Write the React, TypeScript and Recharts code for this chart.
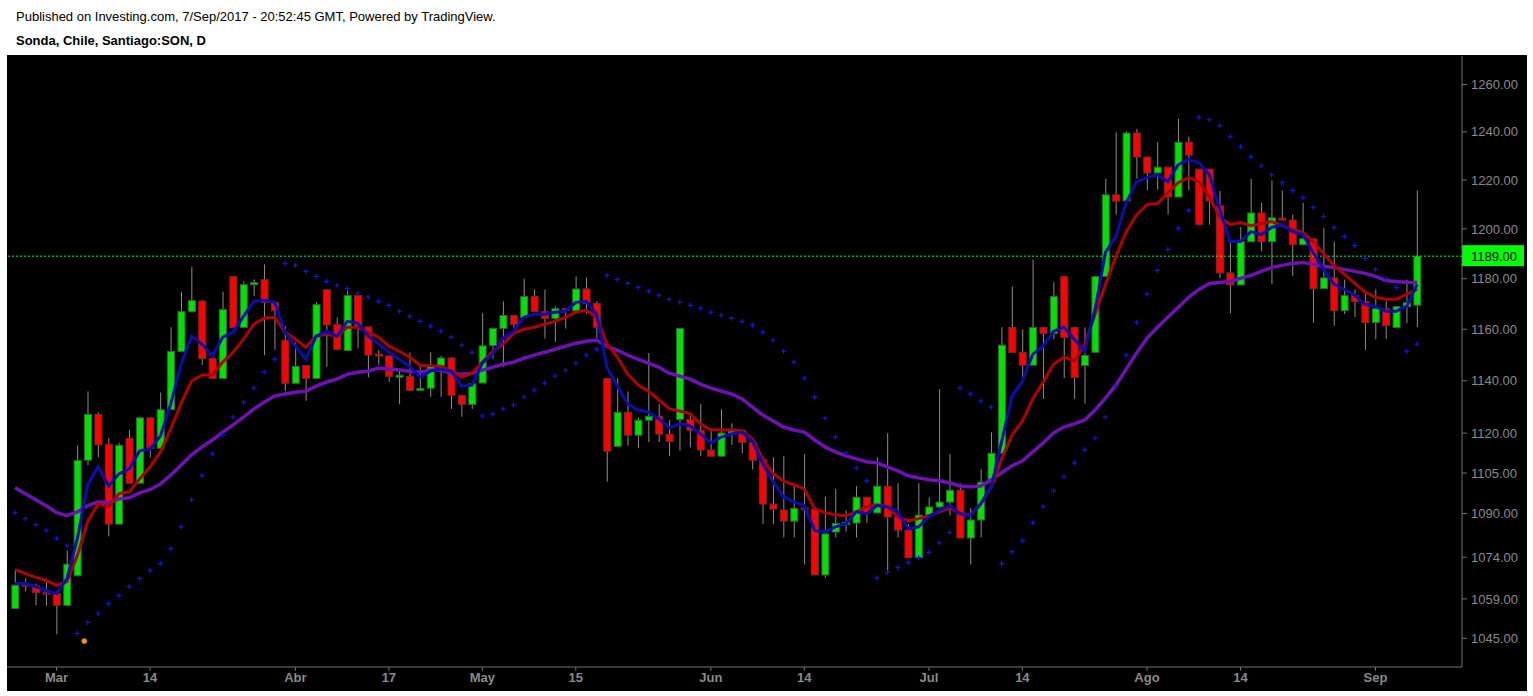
import React from 'react';
import { ComposedChart, Bar, Line, XAxis, YAxis, ReferenceLine, ReferenceDot } from 'recharts';

// daily candles, Sonda (SON) Santiago, 23 Feb – 7 Sep 2017
const opens = [
  1055.6, 1063.9, 1063.7, 1060.9, 1060.8, 1056.7, 1067.3, 1109.8, 1127.1, 1115.8,
  1086.1, 1118.1, 1101.2, 1125.8, 1114.3, 1128.9, 1151.3, 1166.9, 1171.1, 1148.6,
  1140.9, 1180.8, 1160.7, 1177.6, 1179.6, 1170.5, 1155.7, 1139.0, 1145.9, 1140.9,
  1175.6, 1161.8, 1151.7, 1173.3, 1160.9, 1150.1, 1149.6, 1141.5, 1141.7, 1136.5,
  1137.1, 1145.9, 1148.8, 1134.4, 1130.9, 1139.1, 1153.6, 1160.3, 1165.4, 1164.6,
  1172.9, 1166.9, 1164.2, 1168.0, 1167.2, 1175.9, 1170.1, 1140.9, 1115.0, 1127.9,
  1119.2, 1124.9, 1126.4, 1119.6, 1125.2, 1125.2, 1121.1, 1113.6, 1111.3, 1120.0,
  1121.1, 1116.5, 1110.0, 1093.5, 1091.3, 1087.2, 1091.7, 1091.6, 1067.6, 1083.2,
  1086.2, 1086.5, 1096.0, 1090.2, 1100.1, 1088.7, 1083.9, 1073.8, 1089.4, 1092.4,
  1094.2, 1098.6, 1081.0, 1087.6, 1101.6, 1112.4, 1160.7, 1151.0, 1146.0, 1160.7,
  1158.4, 1180.8, 1160.7, 1145.9, 1151.0, 1180.8, 1213.9, 1211.4, 1239.5, 1229.5,
  1222.9, 1225.3, 1213.0, 1235.7, 1224.5, 1224.5, 1209.4, 1182.3, 1177.5, 1194.8,
  1206.5, 1194.8, 1204.2, 1203.6, 1193.6, 1196.0, 1176.0, 1180.3, 1167.3, 1173.3,
  1170.9, 1162.6, 1168.1, 1160.7, 1168.9, 1169.5,
];
const highs = [
  1069.6, 1066.3, 1064.5, 1066.3, 1060.8, 1076.5, 1115.3, 1135.9, 1127.9, 1118.1,
  1116.3, 1121.2, 1125.8, 1125.8, 1135.5, 1160.8, 1174.8, 1184.8, 1171.5, 1151.0,
  1174.8, 1180.8, 1178.9, 1179.7, 1185.7, 1170.5, 1161.1, 1154.8, 1145.9, 1170.7,
  1175.7, 1164.6, 1176.0, 1173.3, 1160.9, 1151.9, 1149.6, 1143.8, 1151.0, 1146.0,
  1151.0, 1149.6, 1149.2, 1134.4, 1138.8, 1166.3, 1160.6, 1171.0, 1165.4, 1180.0,
  1175.7, 1175.7, 1169.0, 1168.0, 1180.9, 1180.5, 1171.0, 1140.9, 1141.0, 1135.9,
  1126.0, 1150.7, 1131.0, 1124.9, 1160.3, 1126.6, 1131.0, 1121.1, 1129.0, 1123.7,
  1121.1, 1116.5, 1110.0, 1110.9, 1111.3, 1101.2, 1112.1, 1091.6, 1096.2, 1099.1,
  1091.1, 1100.1, 1096.0, 1110.9, 1120.0, 1101.2, 1086.1, 1101.2, 1096.0, 1136.8,
  1112.1, 1101.1, 1092.0, 1106.4, 1120.3, 1160.8, 1176.9, 1160.0, 1187.7, 1161.0,
  1178.6, 1181.0, 1161.0, 1160.7, 1181.0, 1220.5, 1239.8, 1240.2, 1241.3, 1229.5,
  1235.6, 1225.3, 1245.5, 1238.1, 1224.5, 1224.5, 1215.5, 1194.8, 1200.7, 1220.5,
  1210.6, 1219.8, 1215.6, 1205.8, 1210.6, 1196.0, 1200.3, 1194.9, 1179.6, 1175.7,
  1174.4, 1175.7, 1171.0, 1168.9, 1179.6, 1215.6,
];
const lows = [
  1055.6, 1061.6, 1056.7, 1056.7, 1046.4, 1056.7, 1067.3, 1108.0, 1110.9, 1081.6,
  1086.1, 1101.2, 1101.2, 1110.9, 1112.2, 1128.9, 1151.3, 1166.9, 1146.1, 1140.9,
  1140.9, 1160.7, 1160.7, 1173.1, 1149.9, 1152.0, 1136.1, 1139.0, 1132.3, 1140.9,
  1145.4, 1151.8, 1151.7, 1152.5, 1141.3, 1146.1, 1139.6, 1131.0, 1136.3, 1136.5,
  1133.8, 1133.8, 1129.2, 1126.2, 1129.2, 1139.1, 1148.6, 1145.4, 1160.6, 1164.6,
  1166.9, 1156.4, 1155.1, 1160.3, 1167.2, 1166.1, 1156.4, 1101.8, 1115.0, 1115.3,
  1114.3, 1116.6, 1116.6, 1111.3, 1113.4, 1114.7, 1111.3, 1111.3, 1111.3, 1115.6,
  1112.4, 1106.3, 1086.2, 1086.2, 1081.2, 1081.2, 1071.4, 1067.6, 1066.5, 1081.2,
  1083.4, 1081.2, 1086.5, 1090.2, 1068.7, 1081.2, 1073.8, 1073.8, 1089.4, 1092.0,
  1089.3, 1081.0, 1071.4, 1081.2, 1101.6, 1112.4, 1151.0, 1141.0, 1146.0, 1133.0,
  1156.1, 1141.0, 1133.0, 1131.2, 1151.0, 1180.8, 1205.8, 1211.4, 1220.5, 1215.8,
  1216.0, 1205.9, 1213.0, 1215.8, 1201.7, 1201.7, 1180.3, 1166.2, 1177.5, 1194.8,
  1191.0, 1177.8, 1203.5, 1181.0, 1193.6, 1162.6, 1176.0, 1161.4, 1166.0, 1164.8,
  1152.0, 1156.1, 1156.2, 1160.7, 1162.4, 1160.9,
];
const closes = [
  1063.9, 1063.9, 1061.2, 1060.9, 1056.7, 1071.5, 1109.7, 1127.1, 1115.6, 1086.1,
  1115.4, 1101.2, 1125.8, 1114.3, 1128.9, 1151.3, 1166.9, 1171.3, 1148.6, 1140.9,
  1167.7, 1160.7, 1177.6, 1178.4, 1170.5, 1167.3, 1139.0, 1145.5, 1140.9, 1169.7,
  1161.7, 1152.1, 1173.3, 1161.1, 1149.9, 1149.8, 1141.7, 1142.0, 1136.3, 1136.9,
  1145.7, 1148.8, 1134.4, 1130.9, 1138.8, 1153.5, 1160.3, 1165.4, 1161.9, 1172.9,
  1166.9, 1164.2, 1168.1, 1167.5, 1175.9, 1170.1, 1160.8, 1113.2, 1127.9, 1119.2,
  1124.9, 1126.4, 1119.6, 1116.9, 1160.3, 1121.1, 1113.6, 1111.3, 1120.0, 1121.1,
  1116.5, 1109.8, 1093.5, 1091.6, 1087.2, 1091.9, 1091.7, 1067.6, 1082.5, 1086.3,
  1086.6, 1096.0, 1090.2, 1100.1, 1088.7, 1083.9, 1073.8, 1089.4, 1092.4, 1094.2,
  1098.6, 1081.0, 1087.6, 1101.6, 1112.4, 1153.8, 1151.0, 1146.0, 1160.7, 1158.4,
  1172.9, 1156.8, 1141.3, 1149.8, 1180.8, 1213.9, 1211.3, 1239.5, 1229.5, 1222.9,
  1225.3, 1213.0, 1235.7, 1230.3, 1201.7, 1211.4, 1182.3, 1177.5, 1194.8, 1206.5,
  1194.8, 1204.5, 1203.8, 1193.6, 1196.0, 1176.0, 1180.3, 1167.3, 1173.3, 1170.9,
  1162.6, 1168.1, 1161.4, 1168.9, 1170.5, 1189.0,
];

// moving averages as drawn (blue = fast, red = mid, purple = slow)
const fastMa = [
  1064.5, 1064.5, 1063.4, 1062.0, 1060.9, 1066.3, 1080.8, 1100.6, 1107.3, 1100.2,
  1104.7, 1106.6, 1113.3, 1114.0, 1118.9, 1131.1, 1146.4, 1157.3, 1154.2, 1149.5,
  1156.9, 1158.8, 1165.1, 1171.0, 1171.4, 1170.6, 1158.8, 1153.4, 1148.3, 1157.3,
  1159.2, 1157.3, 1163.1, 1162.4, 1157.3, 1154.2, 1151.0, 1148.3, 1145.6, 1141.4,
  1143.7, 1144.5, 1143.7, 1137.9, 1138.3, 1146.8, 1150.3, 1156.5, 1159.2, 1164.7,
  1165.9, 1165.9, 1166.7, 1167.1, 1170.6, 1171.0, 1165.9, 1145.2, 1137.9, 1131.1,
  1128.8, 1128.0, 1125.4, 1122.0, 1123.5, 1122.7, 1119.7, 1116.3, 1118.5, 1119.7,
  1120.4, 1117.0, 1108.4, 1101.7, 1096.2, 1094.3, 1092.9, 1083.7, 1083.3, 1085.1,
  1086.2, 1090.6, 1089.9, 1092.9, 1092.5, 1090.6, 1084.4, 1085.1, 1088.8, 1091.0,
  1092.9, 1089.9, 1089.2, 1093.6, 1099.9, 1116.7, 1134.1, 1139.9, 1150.3, 1153.4,
  1159.2, 1160.8, 1156.1, 1151.4, 1167.9, 1190.5, 1196.9, 1210.7, 1219.3, 1221.0,
  1222.2, 1219.3, 1226.3, 1228.4, 1227.1, 1222.2, 1207.9, 1194.9, 1194.9, 1198.9,
  1197.7, 1200.6, 1201.8, 1198.9, 1197.7, 1190.5, 1183.7, 1177.7, 1175.7, 1173.4,
  1169.8, 1169.0, 1167.1, 1167.1, 1169.0, 1177.7,
];
const midMa = [
  1069.5, 1068.1, 1066.7, 1065.6, 1063.8, 1065.2, 1074.6, 1087.0, 1093.6, 1092.5,
  1097.3, 1098.0, 1102.8, 1107.3, 1112.9, 1121.6, 1131.4, 1139.9, 1142.2, 1142.2,
  1147.2, 1151.0, 1156.1, 1162.0, 1164.3, 1164.7, 1158.8, 1156.1, 1153.0, 1157.3,
  1158.1, 1157.3, 1160.8, 1160.8, 1158.8, 1156.9, 1153.4, 1151.4, 1149.1, 1146.0,
  1145.8, 1145.6, 1143.7, 1141.4, 1142.9, 1147.2, 1151.4, 1154.2, 1158.4, 1160.0,
  1160.8, 1162.0, 1163.1, 1164.7, 1166.7, 1167.5, 1164.7, 1154.2, 1149.1, 1142.5,
  1138.3, 1136.0, 1132.6, 1129.2, 1128.4, 1127.3, 1123.5, 1121.2, 1121.2, 1121.2,
  1120.8, 1117.8, 1110.3, 1104.7, 1102.1, 1100.6, 1099.1, 1091.7, 1090.3, 1089.5,
  1089.2, 1090.6, 1092.5, 1093.2, 1092.5, 1088.8, 1087.3, 1088.1, 1089.2, 1090.6,
  1092.1, 1089.9, 1089.5, 1093.6, 1099.9, 1110.3, 1119.2, 1124.6, 1133.0, 1139.5,
  1146.4, 1149.1, 1147.6, 1154.2, 1165.9, 1177.7, 1188.9, 1198.9, 1205.8, 1209.9,
  1210.3, 1214.8, 1218.9, 1221.0, 1219.3, 1213.2, 1204.6, 1201.8, 1202.6, 1201.3,
  1202.2, 1203.0, 1201.3, 1199.8, 1198.5, 1194.9, 1190.1, 1185.3, 1181.7, 1178.1,
  1174.6, 1172.6, 1171.8, 1171.8, 1173.8, 1175.7,
];
const slowMa = [
  1099.5, 1097.3, 1095.1, 1092.9, 1090.3, 1089.2, 1090.6, 1092.9, 1094.3, 1093.9,
  1095.4, 1095.8, 1097.6, 1098.8, 1100.9, 1104.3, 1108.0, 1111.8, 1114.8, 1117.4,
  1120.4, 1123.1, 1126.1, 1129.2, 1131.8, 1134.1, 1134.9, 1135.6, 1136.0, 1137.9,
  1139.5, 1140.6, 1142.5, 1143.3, 1143.7, 1144.9, 1144.5, 1144.1, 1143.7, 1143.3,
  1144.1, 1144.1, 1142.9, 1142.5, 1142.9, 1144.1, 1145.2, 1146.4, 1147.2, 1148.7,
  1149.9, 1151.0, 1152.2, 1153.4, 1154.5, 1155.3, 1155.7, 1153.4, 1151.8, 1149.9,
  1148.3, 1146.8, 1145.2, 1142.9, 1141.8, 1140.6, 1138.7, 1137.2, 1136.0, 1134.9,
  1133.0, 1129.9, 1126.9, 1124.6, 1122.3, 1121.2, 1120.4, 1117.4, 1114.8, 1112.9,
  1111.4, 1110.3, 1109.2, 1108.8, 1107.3, 1105.8, 1104.0, 1103.2, 1102.5, 1102.1,
  1101.3, 1100.2, 1099.9, 1100.2, 1102.5, 1105.1, 1107.7, 1109.6, 1112.9, 1116.3,
  1120.1, 1122.3, 1123.5, 1125.0, 1128.8, 1133.3, 1138.3, 1144.5, 1150.7, 1156.5,
  1160.8, 1164.7, 1168.6, 1172.6, 1175.7, 1178.1, 1178.5, 1178.9, 1180.1, 1181.3,
  1182.9, 1184.5, 1185.3, 1186.1, 1186.5, 1185.7, 1184.9, 1184.5, 1183.7, 1182.9,
  1182.1, 1180.9, 1179.3, 1178.9, 1178.6, 1178.5,
];
// parabolic SAR
const sar = [
  1090.3, 1088.1, 1085.9, 1083.7, 1080.8, 1078.2, 1046.7, 1050.6, 1053.8, 1057.3,
  1060.2, 1063.4, 1066.3, 1069.2, 1071.7, 1077.1, 1085.1, 1095.1, 1104.0, 1112.2,
  1119.3, 1126.1, 1131.8, 1137.2, 1143.3, 1148.3, 1186.1, 1185.3, 1182.9, 1180.9,
  1178.9, 1177.3, 1176.1, 1174.2, 1172.6, 1171.0, 1169.4, 1167.1, 1165.1, 1163.1,
  1161.2, 1159.2, 1156.9, 1153.8, 1151.0, 1126.5, 1127.2, 1129.2, 1130.7, 1133.7,
  1136.4, 1139.1, 1141.8, 1144.1, 1146.8, 1149.9, 1152.2, 1181.3, 1179.7, 1178.1,
  1176.5, 1175.0, 1173.4, 1171.8, 1170.6, 1169.4, 1168.2, 1166.7, 1165.5, 1164.3,
  1163.1, 1161.6, 1158.8, 1155.7, 1151.4, 1147.2, 1141.0, 1133.7, 1125.7, 1118.5,
  1112.5, 1106.9, 1102.1, 1066.6, 1068.5, 1070.3, 1072.1, 1073.9, 1075.7, 1079.3,
  1083.0, 1137.2, 1134.9, 1132.2, 1129.9, 1071.7, 1076.0, 1080.0, 1086.6, 1092.5,
  1098.4, 1103.6, 1108.8, 1113.7, 1118.2, 1126.1, 1137.6, 1149.9, 1162.7, 1173.8,
  1183.3, 1191.7, 1200.2, 1207.5, 1246.1, 1245.1, 1242.6, 1238.0, 1233.8, 1229.6,
  1225.9, 1222.2, 1218.9, 1215.6, 1212.8, 1208.7, 1205.0, 1200.6, 1196.9, 1193.3,
  1188.1, 1183.7, 1180.1, 1176.5, 1151.4, 1154.2,
];

const tickIndex = [4, 13, 27, 36, 45, 54, 67, 76, 88, 97, 109, 118, 131];
const tickLabels = ['Mar', '14', 'Abr', '17', 'May', '15', 'Jun', '14', 'Jul', '14', 'Ago', '14', 'Sep'];
const priceTicks = [1045, 1059, 1074, 1090, 1105, 1120, 1140, 1160, 1180, 1200, 1220, 1240, 1260];
const events = [{ i: 6.67, price: 1044 }];

const rows = opens.map((open, i) => ({
  i,
  open,
  high: highs[i],
  low: lows[i],
  close: closes[i],
  fast: fastMa[i],
  mid: midMa[i],
  slow: slowMa[i],
  sar: sar[i],
}));
const lastClose = closes[closes.length - 1];

const xDomain = [-0.77, 139.33];
const yDomain = [1034.91, 1272.19];

function Wick(props: any) {
  const { x, y, width, height } = props;
  if (x == null || y == null) return null;
  const cx = x + width / 2;
  return <line x1={cx} x2={cx} y1={y} y2={y + height} stroke="#8c8c8c" strokeWidth={1} />;
}

function Body(props: any) {
  const { x, y, width, height, payload } = props;
  if (x == null || y == null) return null;
  const flat = payload.close === payload.open;
  const up = payload.close > payload.open;
  const fill = flat ? '#7a1c1c' : up ? '#00e000' : '#ff0000';
  const stroke = flat ? '#7a1c1c' : up ? '#2d6a2d' : '#7a2626';
  const h = Math.max(height, 2);
  return <rect x={x} y={y - (h - height) / 2} width={width} height={h} fill={fill} stroke={stroke} strokeWidth={1} />;
}

function Plus(props: any) {
  const { cx, cy } = props;
  if (cx == null || cy == null) return null;
  return (
    <g>
      <line x1={cx - 2.5} x2={cx + 2.5} y1={cy} y2={cy} stroke="#1616d6" strokeWidth={1.2} />
      <line x1={cx} x2={cx} y1={cy - 2.5} y2={cy + 2.5} stroke="#1616d6" strokeWidth={1.2} />
    </g>
  );
}

const axisFont = "'Liberation Sans', Arial, sans-serif";

export default function App() {
  return (
    <div style={{ position: 'absolute', left: 0, top: 0, width: 1533, height: 696, background: '#fff', fontFamily: axisFont }}>
      <div style={{ position: 'absolute', left: 16, top: 9, fontSize: 13, color: '#000' }}>
        Published on Investing.com, 7/Sep/2017 - 20:52:45 GMT, Powered by TradingView.
      </div>
      <div style={{ position: 'absolute', left: 16, top: 33, fontSize: 13, fontWeight: 'bold', color: '#000' }}>
        Sonda, Chile, Santiago:SON, D
      </div>
      <div style={{ position: 'absolute', left: 7, top: 55, width: 1520, height: 636, background: '#000' }}>
        <ComposedChart width={1520} height={636} data={rows} margin={{ top: 1, right: 0, bottom: 0, left: 0 }}>
          <XAxis
            xAxisId="main"
            dataKey="i"
            type="number"
            domain={xDomain}
            allowDataOverflow
            ticks={tickIndex}
            interval={0}
            tickFormatter={(v: number) => tickLabels[tickIndex.indexOf(v)]}
            height={24}
            axisLine={{ stroke: '#707070' }}
            tickLine={{ stroke: '#707070' }}
            tickSize={4}
            tick={{ fill: '#8a8a8a', fontSize: 13, fontWeight: 'bold', fontFamily: "'Liberation Sans Narrow', 'Liberation Sans', Arial, sans-serif" }}
          />
          <XAxis xAxisId="body" dataKey="i" type="number" domain={xDomain} allowDataOverflow orientation="top" height={0} hide />
          <YAxis
            yAxisId="p"
            orientation="right"
            scale="log"
            domain={yDomain}
            allowDataOverflow
            ticks={priceTicks}
            interval={0}
            tickFormatter={(v: number) => v.toFixed(2)}
            width={65}
            axisLine={{ stroke: '#707070' }}
            tickLine={{ stroke: '#707070' }}
            tickSize={5}
            tickMargin={4}
            tick={{ fill: '#8a8a8a', fontSize: 13, fontFamily: axisFont }}
          />
          <ReferenceLine
            xAxisId="main"
            yAxisId="p"
            y={lastClose}
            stroke="#00ff00"
            strokeDasharray="2 2"
            label={(p: any) => {
              const vb = p.viewBox;
              const x = vb.x + vb.width;
              return (
                <g>
                  <rect x={x} y={vb.y - 11} width={62} height={21} fill="#00ff00" />
                  <text x={x + 9} y={vb.y + 5} fontSize={13} fill="#000" fontFamily={axisFont}>
                    {lastClose.toFixed(2)}
                  </text>
                </g>
              );
            }}
          />
          <Line xAxisId="main" yAxisId="p" dataKey="slow" stroke="#6f12b4" strokeWidth={3.5} dot={false} activeDot={false} isAnimationActive={false} />
          <Line xAxisId="main" yAxisId="p" dataKey="mid" stroke="#b00000" strokeWidth={3} dot={false} activeDot={false} isAnimationActive={false} />
          <Line xAxisId="main" yAxisId="p" dataKey="fast" stroke="#0c0cb0" strokeWidth={3} dot={false} activeDot={false} isAnimationActive={false} />
          <Line
            xAxisId="main"
            yAxisId="p"
            dataKey="sar"
            stroke="none"
            dot={(p: any) => <Plus key={`s${p.index}`} cx={p.cx} cy={p.cy} />}
            activeDot={false}
            isAnimationActive={false}
          />
          <Bar xAxisId="main" yAxisId="p" dataKey={(d: any) => [d.low, d.high]} barSize={1} shape={<Wick />} isAnimationActive={false} />
          <Bar
            xAxisId="body"
            yAxisId="p"
            dataKey={(d: any) => [Math.min(d.open, d.close), Math.max(d.open, d.close)]}
            barSize={7}
            shape={<Body />}
            isAnimationActive={false}
          />
          {events.map((e) => (
            <ReferenceDot key={e.i} xAxisId="main" yAxisId="p" x={e.i} y={e.price} r={2.5} fill="#ff9900" stroke="#cc7700" />
          ))}
        </ComposedChart>
      </div>
    </div>
  );
}
